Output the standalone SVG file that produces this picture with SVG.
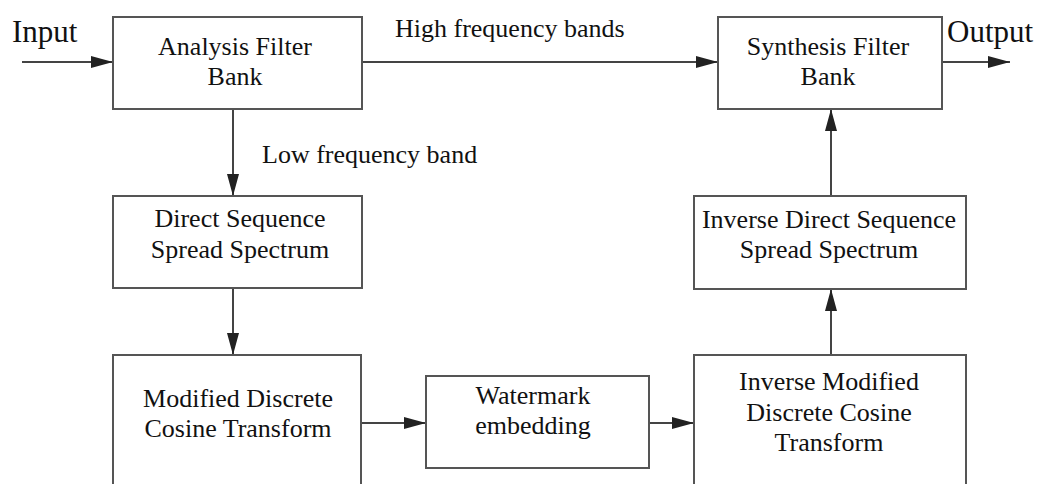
<svg xmlns="http://www.w3.org/2000/svg" width="1039" height="484" viewBox="0 0 1039 484">
<defs>
<style>
.box{fill:#fff;stroke:#555;stroke-width:2}
.lbl{font-family:"Liberation Serif","Times New Roman",serif;font-size:26px;fill:#111}
.c{text-anchor:middle}
.big{font-size:31px}
.edge{stroke:#444;stroke-width:2;fill:none;marker-end:url(#ah)}
</style>
<marker id="ah" viewBox="0 0 22 12" refX="22" refY="6" markerWidth="22" markerHeight="12" markerUnits="userSpaceOnUse" orient="auto">
<path d="M0,0 L22,6 L0,12 Z" fill="#222"/>
</marker>
</defs>
<rect width="1039" height="484" fill="#fff"/>
<g id="connectors">
<line class="edge" x1="22" y1="62" x2="113" y2="62"/>
<line class="edge" x1="362" y1="62" x2="718" y2="62"/>
<line class="edge" x1="942" y1="62" x2="1010" y2="62"/>
<line class="edge" x1="233" y1="109" x2="233" y2="196"/>
<line class="edge" x1="233" y1="288" x2="233" y2="355"/>
<line class="edge" x1="361" y1="423" x2="426" y2="423"/>
<line class="edge" x1="649" y1="423" x2="694" y2="423"/>
<line class="edge" x1="831" y1="355" x2="831" y2="289"/>
<line class="edge" x1="831" y1="196" x2="831" y2="109"/>
<text class="lbl" x="395" y="37">High frequency bands</text>
<text class="lbl" x="262" y="163">Low frequency band</text>
<text class="lbl big" x="12" y="42">Input</text>
<text class="lbl big" x="947" y="42">Output</text>
</g>
<g id="analysis">
<rect class="box" x="113" y="17" width="249" height="92"/>
<text class="lbl c" x="235" y="55">Analysis Filter</text>
<text class="lbl c" x="235" y="85">Bank</text>
</g>
<g id="synthesis">
<rect class="box" x="718" y="17" width="224" height="92"/>
<text class="lbl c" x="828" y="55">Synthesis Filter</text>
<text class="lbl c" x="828" y="85">Bank</text>
</g>
<g id="dsss">
<rect class="box" x="113" y="196" width="249" height="92"/>
<text class="lbl c" x="240" y="227">Direct Sequence</text>
<text class="lbl c" x="240" y="258">Spread Spectrum</text>
</g>
<g id="mdct">
<rect class="box" x="113" y="355" width="248" height="150"/>
<text class="lbl c" x="238" y="407">Modified Discrete</text>
<text class="lbl c" x="238" y="437">Cosine Transform</text>
</g>
<g id="watermark">
<rect class="box" x="426" y="376" width="223" height="92"/>
<text class="lbl c" x="533" y="404">Watermark</text>
<text class="lbl c" x="533" y="434">embedding</text>
</g>
<g id="imdct">
<rect class="box" x="694" y="355" width="272" height="150"/>
<text class="lbl c" x="829" y="390">Inverse Modified</text>
<text class="lbl c" x="829" y="421">Discrete Cosine</text>
<text class="lbl c" x="829" y="451">Transform</text>
</g>
<g id="idsss">
<rect class="box" x="694" y="196" width="272" height="93"/>
<text class="lbl c" x="829" y="228">Inverse Direct Sequence</text>
<text class="lbl c" x="829" y="258">Spread Spectrum</text>
</g>
</svg>
